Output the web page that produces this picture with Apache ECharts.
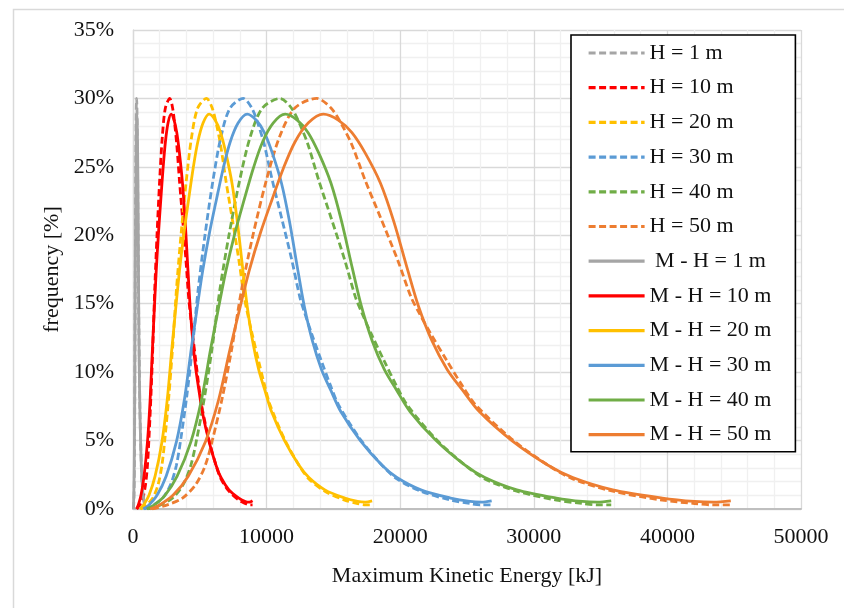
<!DOCTYPE html>
<html>
<head>
<meta charset="utf-8">
<script src="https://cdn.jsdelivr.net/npm/echarts@6/dist/echarts.min.js"></script>
<style>
html,body{margin:0;padding:0;background:#fff;}
#c{width:844px;height:608px;}
</style>
</head>
<body>
<div id="c"></div>
<script>
// frequency [%] (dashed = H, solid = M - H)
const fDash  = [0,0.3,0.8,1.8,3.2,5.2,8.2,11.8,16.0,20.0,24.0,27.2,29.3,30.0,29.3,28.0,26.6,24.0,21.3,18.2,15.5,14.4,12.9,10.8,9.0,7.6,5.1,3.2,2.2,1.3,0.65,0.4,0.3,0.3];
const fSolid = [0,0.3,1.0,2.4,4.9,8.0,11.7,14.6,17.4,20.2,22.6,24.9,26.8,28.2,28.85,28.4,27.5,26.0,23.8,21.0,17.6,14.8,12.3,10.2,8.7,7.1,5.0,3.2,2.3,1.4,0.8,0.55,0.5,0.6];

// Maximum Kinetic Energy [kJ] of those points
const xH1  = [29,51,74,94,108,120,134,148,162,180,200,219,242,275,296,314,328,348,371,396,416,428,445,470,493,513,567,621,658,718,792,841,869,895];
const xH10 = [285,513,741,941,1083,1197,1340,1482,1625,1796,1995,2195,2423,2750,2964,3135,3278,3477,3705,3962,4161,4275,4446,4703,4931,5130,5672,6213,6584,7182,7923,8408,8693,8949];
const xH20 = [570,1026,1482,1881,2166,2394,2679,2964,3249,3591,3990,4389,4845,5501,5928,6270,6555,6954,7410,7923,8322,8550,8892,9405,9861,10260,11343,12426,13167,14364,15846,16815,17385,17898];
const xH30 = [855,1539,2223,2822,3249,3591,4019,4446,4874,5387,5985,6584,7268,8251,8892,9405,9833,10431,11115,11885,12483,12825,13338,14108,14792,15390,17015,18639,19751,21546,23769,25223,26078,26847];
const xH40 = [1140,2052,2964,3762,4332,4788,5358,5928,6498,7182,7980,8778,9690,11001,11856,12540,13110,13908,14820,15846,16644,17100,17784,18810,19722,20520,22686,24852,26334,28728,31692,33630,34770,35796];
const xH50 = [1425,2565,3705,4703,5415,5985,6698,7410,8123,8978,9975,10973,12113,13751,14820,15675,16388,17385,18525,19808,20805,21375,22230,23513,24653,25650,28358,31065,32918,35910,39615,42038,43463,44745];

const xMH1  = [26,40,60,83,108,128,145,160,174,191,208,225,242,262,285,308,328,348,371,390,410,428,447,470,493,519,567,621,658,718,792,841,869,895];
const xMH10 = [257,399,599,827,1083,1283,1454,1596,1739,1910,2081,2252,2423,2622,2850,3078,3278,3477,3705,3905,4104,4275,4475,4703,4931,5187,5672,6213,6584,7182,7923,8408,8693,8949];
const xMH20 = [513,798,1197,1653,2166,2565,2907,3192,3477,3819,4161,4503,4845,5244,5700,6156,6555,6954,7410,7809,8208,8550,8949,9405,9861,10374,11343,12426,13167,14364,15846,16815,17385,17898];
const xMH30 = [770,1197,1796,2480,3249,3848,4361,4788,5216,5729,6242,6755,7268,7866,8550,9234,9833,10431,11115,11714,12312,12825,13424,14108,14792,15561,17015,18639,19751,21546,23769,25223,26078,26847];
const xMH40 = [1026,1596,2394,3306,4332,5130,5814,6384,6954,7638,8322,9006,9690,10488,11400,12312,13110,13908,14820,15618,16416,17100,17898,18810,19722,20748,22686,24852,26334,28728,31692,33630,34770,35796];
const xMH50 = [1283,1995,2993,4133,5415,6413,7268,7980,8693,9548,10403,11258,12113,13110,14250,15390,16388,17385,18525,19523,20520,21375,22373,23513,24653,25935,28358,31065,32918,35910,39615,42038,43463,44745];

const seriesNames = ['H = 1 m','H = 10 m','H = 20 m','H = 30 m','H = 40 m','H = 50 m',
  ' M - H = 1 m','M - H = 10 m','M - H = 20 m','M - H = 30 m','M - H = 40 m','M - H = 50 m'];
const xTicks = [0,10000,20000,30000,40000,50000];
const yTicks = [0,5,10,15,20,25,30,35];

const colors = ['#A5A5A5','#FF0000','#FFC000','#5B9BD5','#70AD47','#ED7D31'];
const xs = [xH1,xH10,xH20,xH30,xH40,xH50,xMH1,xMH10,xMH20,xMH30,xMH40,xMH50];

function zip(x, y){ return x.map((v,i)=>[v,y[i]]); }

const series = seriesNames.map((name,i)=>{
  const dashed = i < 6;
  return {
    name: name,
    type: 'line',
    data: zip(xs[i], dashed ? fDash : fSolid),
    symbol: 'none',
    showSymbol: false,
    smooth: 0.3,
    color: colors[i % 6],
    lineStyle: {color: colors[i % 6], width: 2.8, type: dashed ? [7,3.5] : 'solid', cap: 'butt'},
    animation: false
  };
});

const FONT = 'Liberation Serif';
const chart = echarts.init(document.getElementById('c'), null, {renderer:'canvas'});
chart.setOption({
  backgroundColor: '#fff',
  animation: false,
  graphic: [{
    type: 'rect', left: 11, top: 7, silent: true,
    shape: {width: 900, height: 700},
    style: {fill: 'none', stroke: '#d9d9d9', lineWidth: 1.5}
  }],
  grid: {left: 133, right: 43, top: 30, bottom: 99, containLabel: false},
  xAxis: {
    type: 'value', min: 0, max: 50000, interval: 10000,
    name: 'Maximum Kinetic Energy [kJ]', nameLocation: 'middle', nameGap: 56,
    nameTextStyle: {fontFamily: FONT, fontSize: 22, color: '#111'},
    axisLine: {show: true, lineStyle: {color: '#bfbfbf', width: 2}},
    axisTick: {show: false},
    axisLabel: {fontFamily: FONT, fontSize: 22, color: '#111', margin: 17,
      formatter: v => xTicks.includes(v) ? String(v) : ''},
    splitLine: {show: true, lineStyle: {color: '#d9d9d9', width: 1.3}},
    minorTick: {show: false, splitNumber: 5},
    minorSplitLine: {show: true, lineStyle: {color: '#f0f0f0', width: 1.3}}
  },
  yAxis: {
    type: 'value', min: 0, max: 35, interval: 5,
    name: 'frequency [%]', nameLocation: 'middle', nameGap: 70,
    nameTextStyle: {fontFamily: FONT, fontSize: 22, color: '#111'},
    axisLine: {show: true, lineStyle: {color: '#d9d9d9', width: 1.3}},
    axisTick: {show: false},
    axisLabel: {fontFamily: FONT, fontSize: 22, color: '#111', margin: 19,
      formatter: v => yTicks.includes(v) ? v + '%' : ''},
    splitLine: {show: true, lineStyle: {color: '#d9d9d9', width: 1.3}},
    minorTick: {show: false, splitNumber: 5},
    minorSplitLine: {show: true, lineStyle: {color: '#f0f0f0', width: 1.3}}
  },
  legend: {
    orient: 'vertical', left: 571, top: 35,
    data: seriesNames,
    padding: [7, 24, 6, 16],
    itemWidth: 56, itemHeight: 14, itemGap: 12.7,
    itemStyle: {opacity: 0},
    lineStyle: {width: 3.2},
    backgroundColor: '#fff', borderColor: '#000', borderWidth: 1.6, borderRadius: 0,
    textStyle: {fontFamily: FONT, fontSize: 22, color: '#111', lineHeight: 22},
    selectedMode: false
  },
  series: series
});
</script>
</body>
</html>
